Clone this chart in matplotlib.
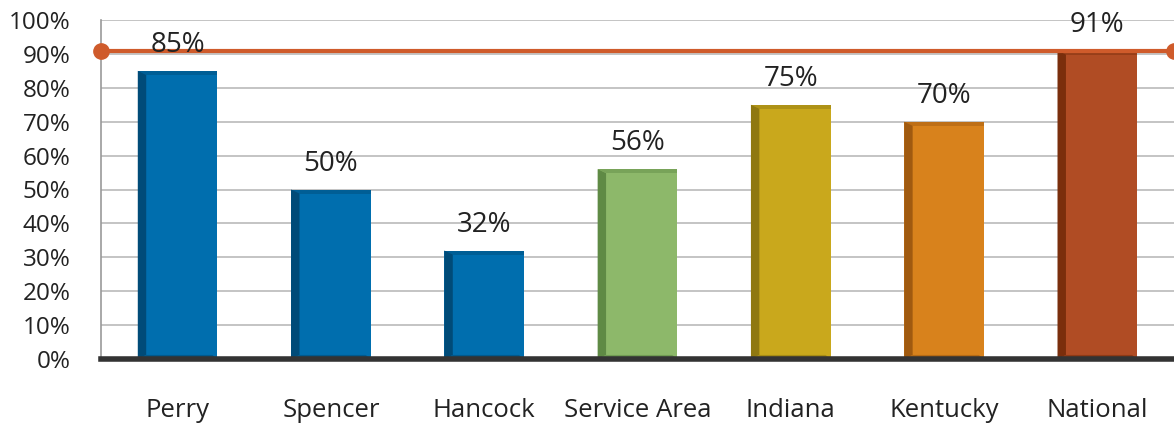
import matplotlib
matplotlib.use("Agg")
import matplotlib.pyplot as plt
from matplotlib.patches import Polygon, Rectangle

categories = ["Perry", "Spencer", "Hancock", "Service Area", "Indiana", "Kentucky", "National"]
values = [85, 50, 32, 56, 75, 70, 91]
bar_colors = ["#006eae", "#006eae", "#006eae", "#8db86a", "#c9a81c", "#d8821c", "#b04c24"]
side_colors = ["#004b78", "#004b78", "#004b78", "#5f8a45", "#8f7810", "#a05a10", "#7a2e0c"]
national_line = 91

fig = plt.figure(figsize=(11.74, 4.25), dpi=100)
ax = fig.add_axes([101 / 1174, (425 - 359) / 425, (1174 - 101) / 1174, 339 / 425])

width = 0.52
side = 0.055
cap = 1.2
for i, (v, c, d) in enumerate(zip(values, bar_colors, side_colors)):
    x0 = i - width / 2
    x1 = i + width / 2
    ax.add_patch(Rectangle((x0, 0), width, v, facecolor=c, edgecolor="none", zorder=3))
    # bevel: left dark face, top and bottom strips
    ax.add_patch(Polygon([(x0, 0), (x0 + side, cap), (x0 + side, v - cap), (x0, v)],
                         closed=True, facecolor=d, edgecolor="none", zorder=4))
    ax.add_patch(Polygon([(x0, v), (x1, v), (x1, v - cap), (x0 + side, v - cap)],
                         closed=True, facecolor=d, edgecolor="none", alpha=0.45, zorder=4))
    ax.add_patch(Polygon([(x0, 0), (x1, 0), (x1 - side * 0.6, cap), (x0 + side, cap)],
                         closed=True, facecolor=d, edgecolor="none", alpha=0.6, zorder=4))
    ax.text(i, v + 3.5, f"{v}%", ha="center", va="bottom", fontsize=20,
            family="Open Sans", color="#222222", zorder=6)

ax.plot([-0.5, len(categories) - 0.5], [national_line, national_line], color="#cf5b2b",
        linewidth=3, marker="o", markersize=11, clip_on=False, zorder=5)

ax.set_xlim(-0.5, len(categories) - 0.5)
ax.set_ylim(0, 100)
ax.set_yticks(range(0, 101, 10))
ax.set_yticklabels([f"{t}%" for t in range(0, 101, 10)], family="Open Sans", fontsize=17.5, color="#222222")
ax.set_xticks(range(len(categories)))
ax.set_xticklabels(categories, family="Open Sans", fontsize=18.5, color="#222222")
ax.tick_params(axis="y", length=0, pad=22)
ax.tick_params(axis="x", length=0, pad=28)
ax.grid(axis="y", color="#c4c4c4", linewidth=1.4, zorder=0)
ax.set_axisbelow(True)

for s in ["top", "right"]:
    ax.spines[s].set_visible(False)
ax.spines["left"].set_color("#999999")
ax.spines["left"].set_linewidth(1.2)
ax.spines["bottom"].set_color("#333333")
ax.spines["bottom"].set_linewidth(4)
ax.spines["bottom"].set_zorder(7)

plt.savefig("out.png", dpi=100)
plt.close(fig)
